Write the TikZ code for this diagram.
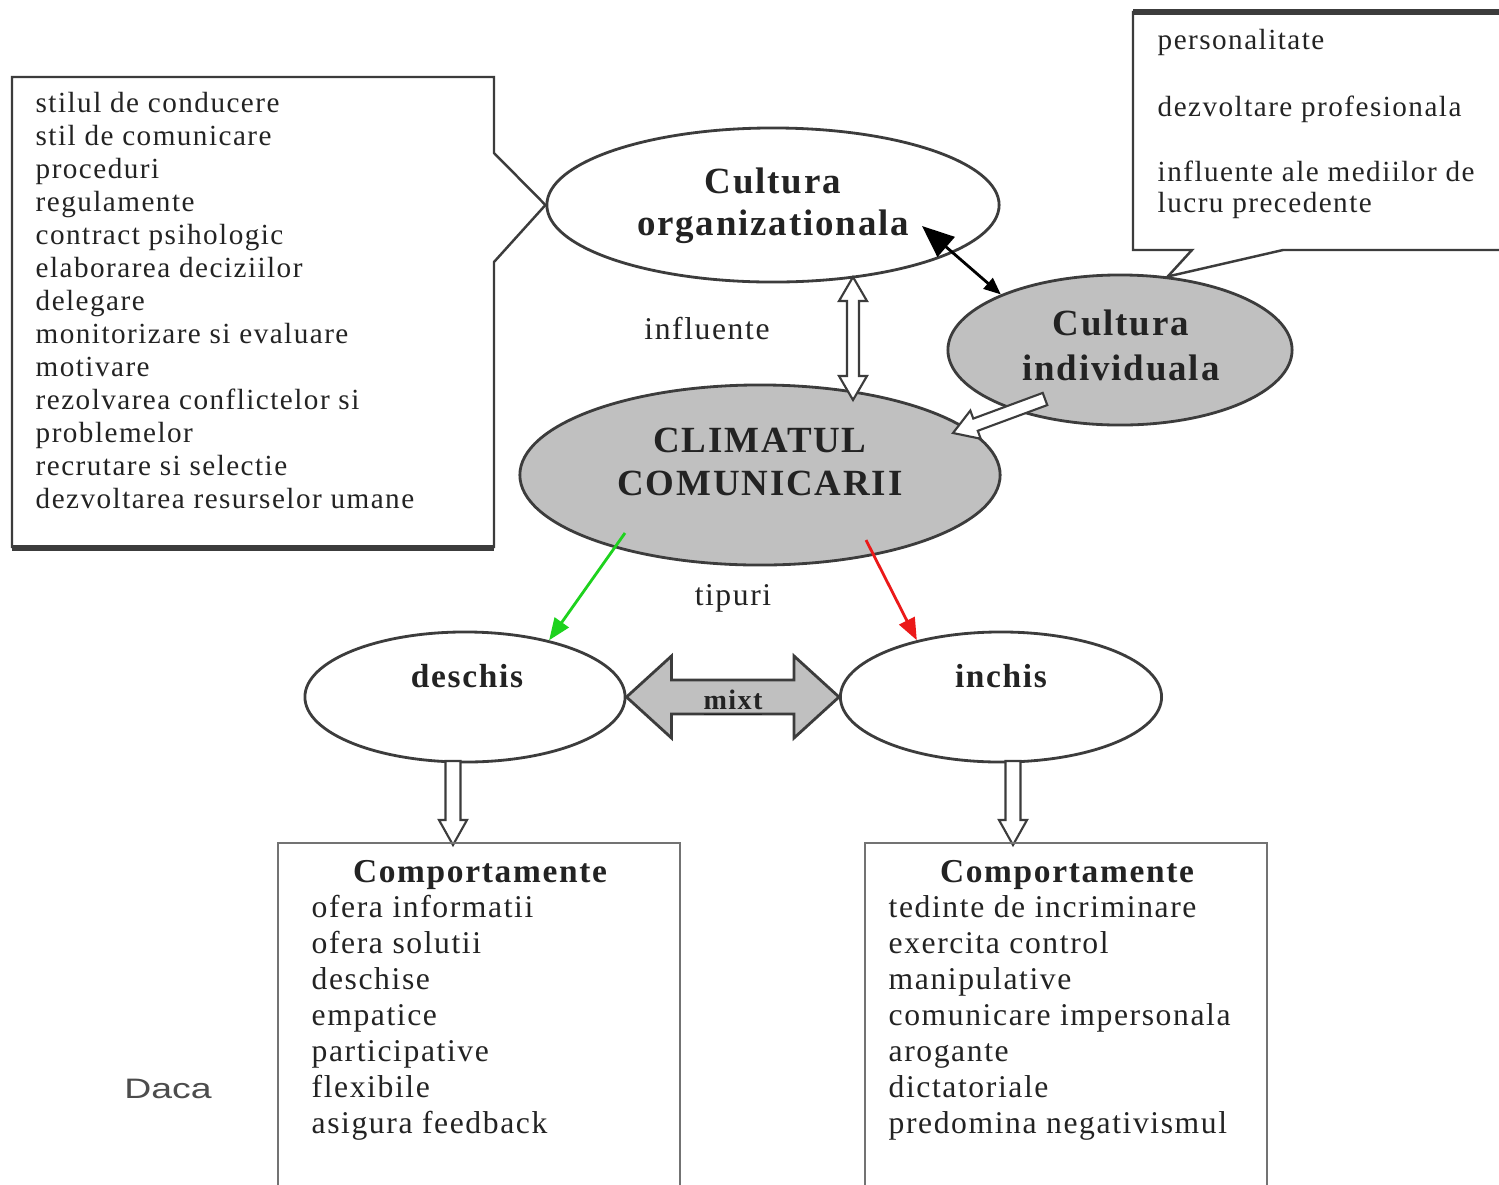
\documentclass[tikz,border=0pt]{standalone}
\usepackage{fontspec}
\setmainfont[LetterSpace=5]{Liberation Serif}
\newfontfamily\dacafont[FakeStretch=1.33]{Liberation Sans}
\usetikzlibrary{shapes.geometric,arrows.meta,calc}
\definecolor{grn}{RGB}{30,210,30}
\definecolor{rd}{RGB}{235,25,25}
\definecolor{ink}{RGB}{35,35,35}
\definecolor{edge}{RGB}{60,60,60}
\definecolor{fillg}{RGB}{192,192,192}

% double-headed block arrow: #1 style, #2 start, #3 end, #4 shaft half width, #5 head half width, #6 head length
\newcommand{\dblarrow}[6]{%
  \coordinate (da-hs) at ($(#2)!#6!(#3)$);
  \coordinate (da-he) at ($(#3)!#6!(#2)$);
  \draw[#1] (#2) -- ($(da-hs)!#5!90:(#3)$) -- ($(da-hs)!#4!90:(#3)$)
    -- ($(da-he)!#4!90:(#3)$) -- ($(da-he)!#5!90:(#3)$) -- (#3)
    -- ($(da-he)!#5!-90:(#3)$) -- ($(da-he)!#4!-90:(#3)$)
    -- ($(da-hs)!#4!-90:(#3)$) -- ($(da-hs)!#5!-90:(#3)$) -- cycle;}
% single-headed block arrow
\newcommand{\sglarrow}[6]{%
  \coordinate (sa-he) at ($(#3)!#6!(#2)$);
  \draw[#1] ($(#2)!#4!90:(#3)$) -- ($(sa-he)!#4!90:(#3)$) -- ($(sa-he)!#5!90:(#3)$)
    -- (#3) -- ($(sa-he)!#5!-90:(#3)$) -- ($(sa-he)!#4!-90:(#3)$)
    -- ($(#2)!#4!-90:(#3)$) -- cycle;}

\tikzset{
  outl/.style={draw=edge, line width=0.7pt, line join=miter},
  oval/.style={ellipse, draw=edge, line width=0.8pt, fill=white, inner sep=0pt},
  goval/.style={oval, fill=fillg},
  lst/.style={font=\fontsize{8.3}{10}\selectfont, text=ink, inner sep=0pt, anchor=base west},
  blst/.style={font=\fontsize{9}{11}\selectfont, text=ink, inner sep=0pt, anchor=base west},
  ttl/.style={font=\bfseries\fontsize{10.5}{12}\selectfont, text=ink, inner sep=0pt, anchor=base},
  subttl/.style={font=\bfseries\fontsize{9.5}{11}\selectfont, text=ink, inner sep=0pt, anchor=base},
  lbl/.style={font=\fontsize{9}{11}\selectfont, text=ink, inner sep=0pt, anchor=base},
  hollowarr/.style={fill=white, draw=edge, line width=0.6pt, line join=miter},
  grayarr/.style={fill=fillg, draw=edge, line width=0.8pt, line join=miter},
  linkarr/.style={line width=0.8pt}
}

\begin{document}
\begin{tikzpicture}[x=0.01cm, y=-0.01cm]
\useasboundingbox (0,0) rectangle (1499,1184);
\fill[white] (0,0) rectangle (1499,1184);
\clip (0,0) rectangle (1499,1184);

% ---------- ellipses ----------
\node[oval,  minimum width=4.52cm, minimum height=1.54cm] (corg)  at (773,205) {};
\node[goval, minimum width=3.44cm, minimum height=1.50cm] (cind)  at (1120,350) {};
\node[goval, minimum width=4.80cm, minimum height=1.80cm] (clim)  at (760,475) {};
\node[oval,  minimum width=3.20cm, minimum height=1.30cm] (desch) at (465,697) {};
\node[oval,  minimum width=3.21cm, minimum height=1.30cm] (inch)  at (1001,697) {};

% ---------- left callout box ----------
\draw[outl] (494,153) -- (corg.west) -- (494,262) -- (494,547) -- (12,547) -- (12,77) -- (494,77) -- cycle;
\draw[edge, line width=1.5pt] (12,548) -- (494,548);
\foreach \t [count=\i] in {stilul de conducere, stil de comunicare, proceduri, regulamente,
  contract psihologic, elaborarea deciziilor, delegare, monitorizare si evaluare, motivare,
  rezolvarea conflictelor si, problemelor, recrutare si selectie, dezvoltarea resurselor umane}
  { \node[lst] (L\i) at (35,{112+33*(\i-1)}) {\t}; }

% ---------- top right callout box ----------
\coordinate (rtip) at (cind.57);
\draw[outl] (1510,250) -- (1283,250) -- (rtip) -- (1192,250) -- (1133,250) -- (1133,12) -- (1510,12);
\draw[edge, line width=1.6pt] (1133,12) -- (1510,12);
\node[lst] (R1) at (1157,49)  {personalitate};
\node[lst] (R2) at (1157,116) {dezvoltare profesionala};
\node[lst] (R3) at (1157,181) {influente ale mediilor de};
\node[lst] (R4) at (1157,212) {lucru precedente};

% ---------- ellipse texts ----------
\node[ttl] (corg1) at (773,193) {Cultura};
\node[ttl] (corg2) at (773,235) {organizationala};
\node[ttl] (cind1) at (1121,335) {Cultura};
\node[ttl] (cind2) at (1121,380) {individuala};
\node[ttl] (clim1) at (760,452) {CLIMATUL};
\node[ttl] (clim2) at (760,495) {COMUNICARII};
\node[subttl] (deschT) at (467,687) {deschis};
\node[subttl] (inchT)  at (1001,687) {inchis};

% ---------- connectors ----------
\coordinate (otip) at (922,226);
\draw[linkarr, black, {Triangle[length=0.32cm,width=0.26cm]}-{Triangle[length=0.17cm,width=0.14cm]}]
  (otip) -- (cind.155);

\coordinate (infA) at (853,277);
\coordinate (infB) at (853,400);
\dblarrow{hollowarr}{infA}{infB}{0.06cm}{0.14cm}{0.24cm}

\coordinate (icA) at (1045,399);
\coordinate (icB) at (953,433);
\sglarrow{hollowarr}{icA}{icB}{0.065cm}{0.15cm}{0.24cm}

\coordinate (gA) at (625,533);
\draw[linkarr, grn, -{Triangle[length=0.22cm,width=0.17cm]}] (gA) -- (desch.34);
\coordinate (rA) at (866,540);
\draw[linkarr, rd, -{Triangle[length=0.22cm,width=0.17cm]}] (rA) -- (inch.146);

\dblarrow{grayarr}{desch.east}{inch.west}{0.17cm}{0.41cm}{0.45cm}

\coordinate (dA) at (453,761);
\coordinate (dB) at (453,845);
\sglarrow{hollowarr}{dA}{dB}{0.075cm}{0.14cm}{0.25cm}
\coordinate (iA) at (1013,761);
\coordinate (iB) at (1013,845);
\sglarrow{hollowarr}{iA}{iB}{0.075cm}{0.14cm}{0.25cm}

% ---------- labels ----------
\node[lbl] (influ) at (707,339) {influente};
\node[lbl] (tip)   at (733,605) {tipuri};
\node[font=\bfseries\fontsize{8}{10}\selectfont, text=ink, inner sep=0pt, anchor=base] (mixt) at (733,709) {\underline{mixt}};

% ---------- bottom boxes ----------
\draw[outl, draw=black!55] (278,1200) -- (278,843) -- (680,843) -- (680,1200);
\draw[outl, draw=black!55] (865,1200) -- (865,843) -- (1267,843) -- (1267,1200);
\node[subttl] (compL) at (480,882) {Comportamente};
\node[subttl] (compR) at (1067,882) {Comportamente};
\foreach \t [count=\i] in {ofera informatii, ofera solutii, deschise, empatice,
  participative, flexibile, asigura feedback}
  { \node[blst] (B\i) at (311,{917+36*(\i-1)}) {\t}; }
\foreach \t [count=\i] in {tedinte de incriminare, exercita control, manipulative,
  comunicare impersonala, arogante, dictatoriale, predomina negativismul}
  { \node[blst] (C\i) at (888,{917+36*(\i-1)}) {\t}; }

\node[font=\dacafont\fontsize{8}{10}\selectfont, text=black!70, inner sep=0pt, anchor=base] (daca) at (168,1098) {Daca};
\end{tikzpicture}
\end{document}
